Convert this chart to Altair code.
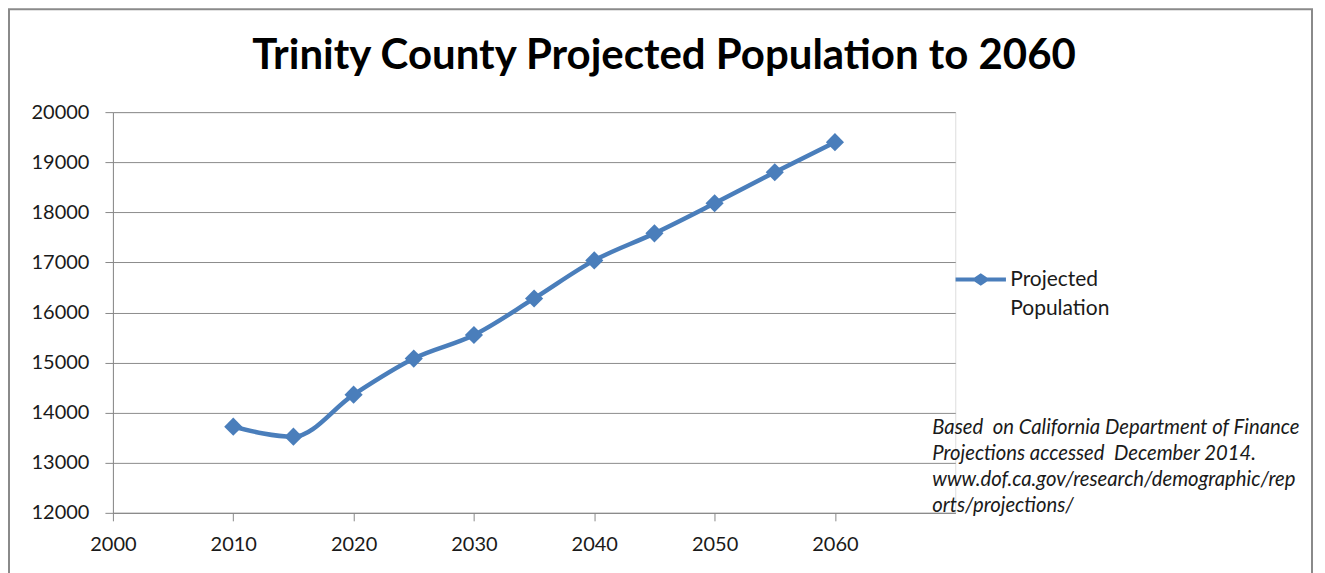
import altair as alt
import pandas as pd

years = [2010, 2015, 2020, 2025, 2030, 2035, 2040, 2045, 2050, 2055, 2060]
population = [13720, 13520, 14360, 15080, 15550, 16280, 17040, 17580, 18180, 18800, 19400]
series_name = "Projected Population"
title_text = "Trinity County Projected Population to 2060"
x_ticks = [2000, 2010, 2020, 2030, 2040, 2050, 2060]
y_ticks = [12000, 13000, 14000, 15000, 16000, 17000, 18000, 19000, 20000]
note_lines = [
    "Based \u00a0on California Department of Finance",
    "Projections accessed \u00a0December 2014.",
    "www.dof.ca.gov/research/demographic/rep",
    "orts/projections/",
]

BLUE = "#4A7EBB"
FONT = "Lato"
W, H = 843, 401

df = pd.DataFrame({"year": years, "pop": population, "series": [series_name] * len(years)})

x = alt.X("year:Q", scale=alt.Scale(domain=[2000, 2070], nice=False, zero=False),
          axis=alt.Axis(values=x_ticks, format="d", title=None, grid=False,
                        tickSize=8, labelPadding=14, labelFontSize=20, labelFlush=False,
                        domainColor="#888888", tickColor="#888888",
                        labelColor="#1a1a1a", labelFont=FONT))
y = alt.Y("pop:Q", scale=alt.Scale(domain=[12000, 20000], nice=False, zero=False),
          axis=alt.Axis(values=y_ticks, format="d", title=None, grid=True,
                        gridColor="#8c8c8c", tickSize=8, labelPadding=16,
                        labelFontSize=20, domainColor="#888888", tickColor="#888888",
                        labelColor="#1a1a1a", labelFont=FONT))

legend_path = ("M-2.4,-0.18 L-0.6,-0.18 L0,-0.6 L0.6,-0.18 L2.4,-0.18 L2.4,0.18 "
               "L0.6,0.18 L0,0.6 L-0.6,0.18 L-2.4,0.18 Z")

color = alt.Color("series:N", scale=alt.Scale(domain=[series_name], range=[BLUE]),
                  legend=alt.Legend(title=None, orient="none", legendX=858, legendY=157,
                                    symbolType=legend_path, symbolSize=441,
                                    symbolStrokeWidth=0, symbolFillColor=BLUE,
                                    labelExpr="['Projected', 'Population']",
                                    labelFontSize=21, labelFont=FONT, labelColor="#1a1a1a",
                                    labelOffset=19, labelBaseline="middle"))

line = alt.Chart(df).mark_line(interpolate="monotone", strokeWidth=4.5).encode(x=x, y=y, color=color)
points = alt.Chart(df).mark_point(shape="diamond", filled=True, size=330, opacity=1).encode(
    x=x, y=y, color=alt.Color("series:N", scale=alt.Scale(domain=[series_name], range=[BLUE]), legend=None))

note_df = pd.DataFrame({"t": ["\n".join(note_lines)]})
note = alt.Chart(note_df).mark_text(align="left", baseline="alphabetic", fontSize=20.3,
                                    font=FONT, fontStyle="italic", color="#1a1a1a",
                                    lineBreak="\n", lineHeight=26).encode(
    text="t:N", x=alt.value(820), y=alt.value(322))

frame = alt.Chart(note_df).mark_rect(fill=None, stroke="#8a8a8a", strokeWidth=2).encode(
    x=alt.value(-104), x2=alt.value(1200), y=alt.value(-103), y2=alt.value(480))

chart = alt.layer(frame, line, points, note).properties(
    width=W, height=H,
    title=alt.TitleParams(title_text, font=FONT, fontSize=42, fontWeight="bold",
                          color="#000000", anchor="middle", dx=130, offset=-103,
                          baseline="alphabetic"),
    autosize=alt.AutoSizeParams(type="none"),
    padding={"left": 105, "top": 104, "right": 362, "bottom": 60},
).configure_view(stroke=None).configure(
    style={"guide-label": {"lineHeight": 30}}
)

chart.save("out.html", embed_options={"renderer": "svg", "actions": False})
